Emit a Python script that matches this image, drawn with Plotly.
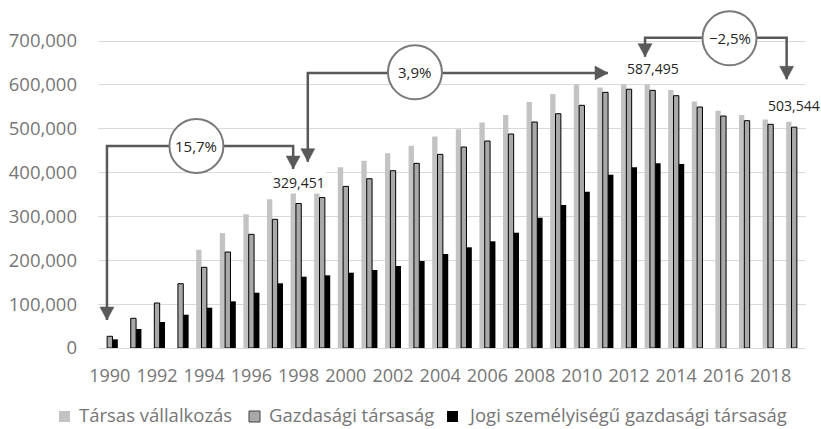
import plotly.graph_objects as go

# Years on the category axis
years = list(range(1990, 2020))

# Társas vállalkozás (all partnership-type enterprises)
tarsas = [None, None, None, None, 224000, 262000, 305000, 339000, 370000, 390000,
          412000, 427000, 444000, 461000, 482000, 499000, 514000, 531000, 561000, 579000,
          601000, 594000, 601000, 601000, 588000, 562000, 541000, 531000, 521000, 516000]

# Gazdasági társaság (business associations)
gazdasagi = [26700, 67700, 102600, 146600, 184000, 218900, 259200, 293400, 329451, 343000,
             368500, 386000, 404300, 421100, 441600, 458300, 472000, 487900, 515300, 534200,
             553300, 582900, 590000, 587495, 575300, 549500, 529000, 518300, 510000, 503544]

# Jogi személyiségű gazdasági társaság (with legal personality)
jogi = [19800, 43300, 59300, 75900, 91900, 106400, 126100, 147500, 162600, 165700,
        171700, 177800, 187000, 198400, 214300, 229600, 243300, 262900, 297100, 326000,
        356400, 395100, 411900, 421000, 419500, None, None, None, None, None]

series_names = ["Társas vállalkozás", "Gazdasági társaság",
                "Jogi személyiségű gazdasági társaság"]
series_colors = ["#c3c3c3", "#a9a9a9", "#000000"]

# Value labels shown above selected bars
label_years = [1998, 2013, 2019]

# Growth-rate callouts: (text, start year, end year)
callouts = [("15,7%", 1990, 1998), ("3,9%", 1998, 2013), ("\u22122,5%", 2013, 2019)]

ytick_vals = [0, 100000, 200000, 300000, 400000, 500000, 600000, 700000]
xtick_vals = list(range(1990, 2019, 2))

FONT = "Open Sans"
AXIS_GREY = "#767676"
ARROW = "#595959"

W, H = 821, 429
ML, MR, MT, MB = 98, 15, 0, 81
PLOT_W = W - ML - MR
PLOT_H = H - MT - MB

fig = go.Figure()
fig.add_trace(go.Bar(x=years, y=tarsas, name=series_names[0],
                     marker=dict(color=series_colors[0], line=dict(width=0))))
fig.add_trace(go.Bar(x=years, y=gazdasagi, name=series_names[1],
                     marker=dict(color=series_colors[1], line=dict(color="#000000", width=1))))
fig.add_trace(go.Bar(x=years, y=jogi, name=series_names[2],
                     marker=dict(color=series_colors[2], line=dict(width=0))))

# Data labels over the Gazdasági társaság bars
for yr in label_years:
    v = gazdasagi[years.index(yr)]
    fig.add_annotation(x=yr, y=v, text=f"{v:,}", showarrow=False,
                       yanchor="bottom", yshift=10, bgcolor="white",
                       font=dict(family=FONT, size=14, color="#262626"))

# Callout geometry (x in years, y in values)
bar_off = 0.23
arrow_paths = [
    dict(x0=1989.88, x1=1998 - bar_off, yh=460600, ytip0=63800, ytip1=408100,
         cx=1993.67, cy=460600, right="down"),
    dict(x0=1998.39, x1=2011.11, yh=627000, ytip0=424800, ytip1=None,
         cx=2002.93, cy=628600, right="right"),
    dict(x0=2012.68, x1=2018.68, yh=707500, ytip0=664200, ytip1=612700,
         cx=2016.26, cy=706200, right="down"),
]

HEAD_W = 7   # half width of arrow head, px
HEAD_L = 13  # length of arrow head, px

for (txt, _, _), a in zip(callouts, arrow_paths):
    if a["right"] == "down":
        path = (f"M {a['x0']},{a['ytip0']} L {a['x0']},{a['yh']} "
                f"L {a['x1']},{a['yh']} L {a['x1']},{a['ytip1']}")
    else:
        path = (f"M {a['x0']},{a['ytip0']} L {a['x0']},{a['yh']} "
                f"L {a['x1']},{a['yh']}")
    fig.add_shape(type="path", path=path, xref="x", yref="y",
                  line=dict(color=ARROW, width=2.5))
    heads = [(a["x0"], a["ytip0"], "down")]
    if a["right"] == "down":
        heads.append((a["x1"], a["ytip1"], "down"))
    else:
        heads.append((a["x1"], a["yh"], "right"))
    for hx, hy, d in heads:
        if d == "down":
            hp = f"M 0,0 L {-HEAD_W},{HEAD_L} L {HEAD_W},{HEAD_L} Z"
        else:
            hp = f"M 0,0 L {-HEAD_L},{HEAD_W} L {-HEAD_L},{-HEAD_W} Z"
        fig.add_shape(type="path", path=hp, xref="x", yref="y",
                      xsizemode="pixel", ysizemode="pixel",
                      xanchor=hx, yanchor=hy,
                      fillcolor=ARROW, line=dict(color=ARROW, width=0.5))
    fig.add_shape(type="circle", xref="x", yref="y",
                  xsizemode="pixel", ysizemode="pixel",
                  xanchor=a["cx"], yanchor=a["cy"],
                  x0=-27, x1=27, y0=-27, y1=27,
                  fillcolor="white", line=dict(color="#7a7a7a", width=2))
    fig.add_annotation(x=a["cx"], y=a["cy"], text=txt, showarrow=False,
                       font=dict(family=FONT, size=15, color="#262626"))


# Legend row below the axis: square swatch + label
def px_x(p):
    return (p - ML) / PLOT_W


def px_y(p):
    return (H - MB - p) / PLOT_H


legend_swatch_x = [59, 249, 447]
legend_text_x = [77, 267, 466]
SW = 11
sw_top, sw_bot = 411, 422
legend_text_y = 414
for i, name in enumerate(series_names):
    sx = legend_swatch_x[i]
    fig.add_shape(type="rect", xref="paper", yref="paper",
                  x0=px_x(sx), x1=px_x(sx + SW), y0=px_y(sw_bot), y1=px_y(sw_top),
                  fillcolor=series_colors[i],
                  line=dict(color="#404040" if i == 1 else series_colors[i],
                            width=1 if i == 1 else 0))
    fig.add_annotation(xref="paper", yref="paper", x=px_x(legend_text_x[i]),
                       y=px_y(legend_text_y), xanchor="left", yanchor="middle",
                       text=name, showarrow=False,
                       font=dict(family=FONT, size=18.5, color=AXIS_GREY))

fig.update_layout(
    width=W, height=H,
    margin=dict(l=ML, r=MR, t=MT, b=MB),
    paper_bgcolor="white", plot_bgcolor="white",
    barmode="group", bargap=0.32, bargroupgap=0,
    font=dict(family=FONT, color=AXIS_GREY),
    showlegend=False,
    xaxis=dict(range=[1989.5, 2019.5], tickvals=xtick_vals,
               ticktext=[str(v) for v in xtick_vals],
               showgrid=False, zeroline=False, showline=False, ticks="",
               ticklabelstandoff=15,
               tickfont=dict(family=FONT, size=18, color=AXIS_GREY)),
    yaxis=dict(range=[0, PLOT_H / 43.857 * 100000], tickvals=ytick_vals,
               ticktext=[f"{v:,}" for v in ytick_vals],
               showgrid=True, gridcolor="#d9d9d9", gridwidth=1.3,
               zeroline=True, zerolinecolor="#d9d9d9", zerolinewidth=1.3,
               showline=False, ticks="", ticklabelstandoff=20,
               tickfont=dict(family=FONT, size=18.5, color=AXIS_GREY)),
)

fig.write_html("out.html")
